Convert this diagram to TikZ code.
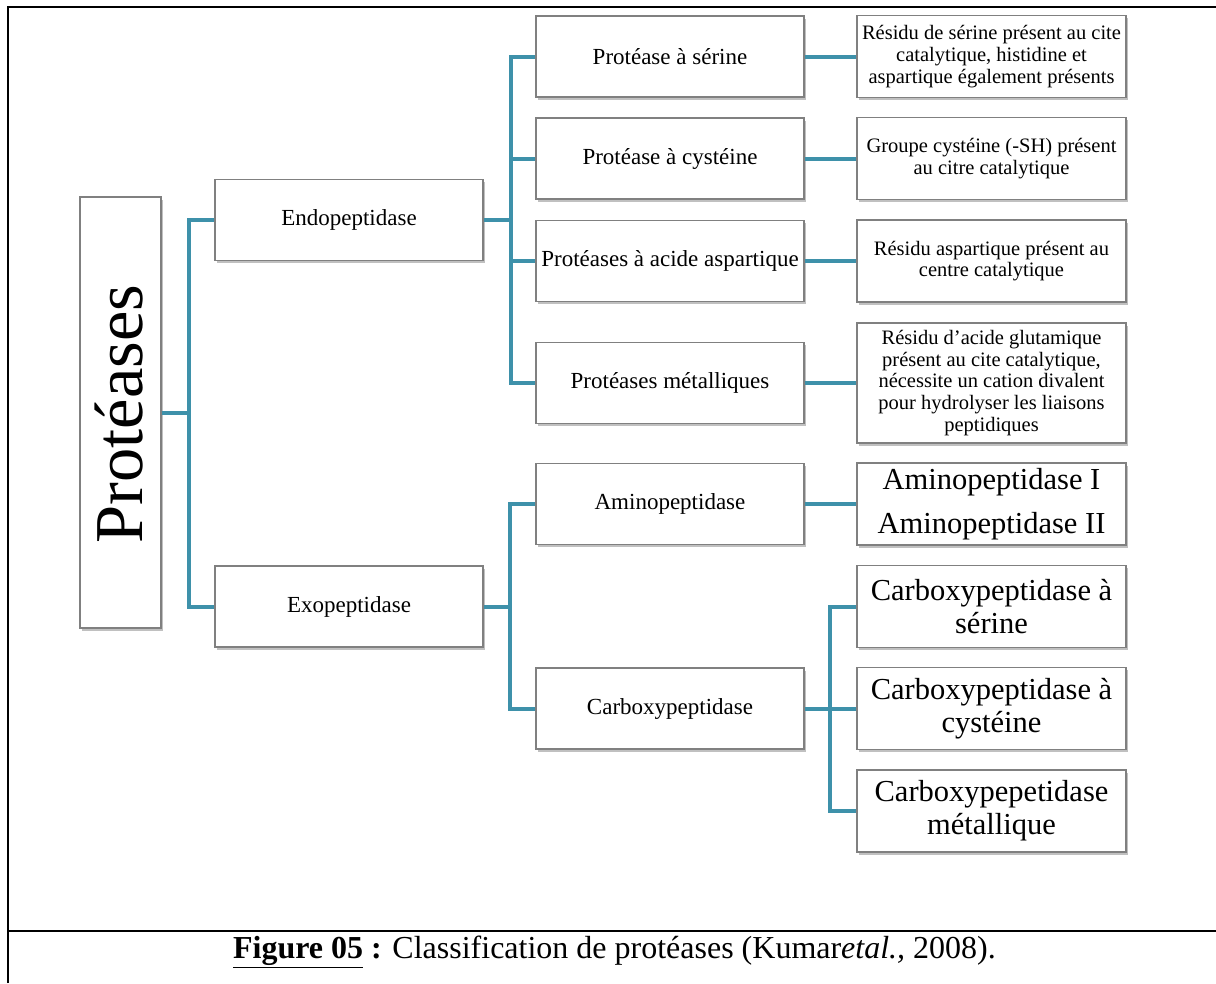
\documentclass[tikz,border=0pt]{standalone}
\usepackage{fontspec}
\setmainfont{Liberation Serif}
\usetikzlibrary{shadows}
\definecolor{tealc}{RGB}{62,145,170}
\definecolor{boxgray}{RGB}{128,128,128}
\begin{document}
\begin{tikzpicture}[x=1pt,y=-1pt,
  box/.style={draw=boxgray, line width=1.1pt, fill=white, inner sep=1pt, align=center,
    drop shadow={shadow xshift=1.5pt, shadow yshift=-2.5pt, fill=black!55, opacity=0.45}},
  midbox/.style={box, minimum width=268pt, minimum height=81pt, font=\fontsize{23}{27}\selectfont},
  smallbox/.style={box, minimum width=269pt, minimum height=82pt, font=\fontsize{20.5}{21.7}\selectfont},
  bigbox/.style={box, minimum width=269pt, minimum height=82pt, font=\fontsize{30.5}{33}\selectfont},
  conn/.style={draw=tealc, line width=4pt},
  frame/.style={line width=2.2pt, draw=black}
]
\useasboundingbox (0,0) rectangle (1216,983);
\draw[frame] (8,983) -- (8,7) -- (1216,7);
\draw[frame] (8,931) -- (1216,931);

% root
\node[box, minimum width=81pt, minimum height=431pt] (P) at (120.5,412.5) {};
\node[rotate=90, font=\fontsize{68.5}{72}\selectfont, inner sep=0pt] (Ptext) at (119,414) {Protéases};

% level 1
\node[midbox] (Endo) at (349,220) {Endopeptidase};
\node[midbox] (Exo) at (349,606.5) {Exopeptidase};

% level 2
\node[midbox] (S1) at (670,56.5) {Protéase à sérine};
\node[midbox] (S2) at (670,158.5) {Protéase à cystéine};
\node[midbox] (S3) at (670,261) {Protéases à acide aspartique};
\node[midbox] (S4) at (670,383) {Protéases métalliques};
\node[midbox] (Am) at (670,504) {Aminopeptidase};
\node[midbox] (Cb) at (670,708.5) {Carboxypeptidase};

% level 3
\node[smallbox] (D1) at (991.5,56.5) {Résidu de sérine présent au cite\\catalytique, histidine et\\aspartique également présents};
\node[smallbox] (D2) at (991.5,158.5) {Groupe cystéine (-SH) présent\\au citre catalytique};
\node[smallbox] (D3) at (991.5,261) {Résidu aspartique présent au\\centre catalytique};
\node[smallbox, minimum height=120pt] (D4) at (991.5,383) {Résidu d’acide glutamique\\présent au cite catalytique,\\nécessite un cation divalent\\pour hydrolyser les liaisons\\peptidiques};
\node[bigbox, font=\fontsize{30.5}{44}\selectfont] (AmI) at (991.5,504) {Aminopeptidase I\\Aminopeptidase II};
\node[bigbox] (C1) at (991.5,606.5) {Carboxypeptidase à\\sérine};
\node[bigbox] (C2) at (991.5,708.5) {Carboxypeptidase à\\cystéine};
\node[bigbox] (C3) at (991.5,811) {Carboxypepetidase\\métallique};

% bus coordinates
\coordinate (b0) at (189,412.5);
\coordinate (b1) at (511,220);
\coordinate (b2) at (510,606.5);
\coordinate (b3) at (830,708.5);

% connectors
\draw[conn] (P.east) -- (b0);
\draw[conn] (Endo.west) -| (b0) |- (Exo.west);
\draw[conn] (Endo.east) -- (b1);
\draw[conn] (S1.west) -| (b1) |- (S4.west);
\draw[conn] (b1) |- (S2.west);
\draw[conn] (b1) |- (S3.west);
\draw[conn] (Exo.east) -- (b2);
\draw[conn] (Am.west) -| (b2) |- (Cb.west);
\draw[conn] (Cb.east) -- (b3);
\draw[conn] (C1.west) -| (b3) |- (C3.west);
\draw[conn] (b3) -- (C2.west);
\draw[conn] (S1.east) -- (D1.west);
\draw[conn] (S2.east) -- (D2.west);
\draw[conn] (S3.east) -- (D3.west);
\draw[conn] (S4.east) -- (D4.west);
\draw[conn] (Am.east) -- (AmI.west);

% caption
\node[font=\fontsize{32}{36}\selectfont, inner sep=0pt] (cap) at (614.5,952) {\textbf{\underline{Figure 05}} \textbf{:} Classification de protéases (Kumar\textit{etal.,} 2008).};
\end{tikzpicture}
\end{document}
